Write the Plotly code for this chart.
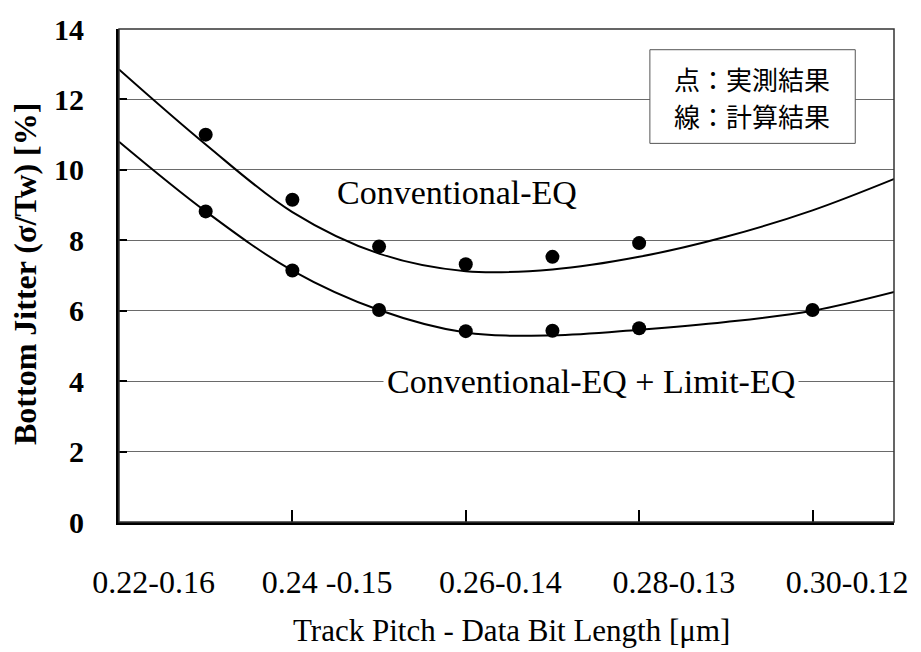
import plotly.graph_objects as go

# Category positions along the track-pitch axis (tick spacing = 1)
tick_labels = ["0.22-0.16", "0.24 -0.15", "0.26-0.14", "0.28-0.13", "0.30-0.12"]
label_pos = [0.2, 1.2, 2.2, 3.2, 4.2]
tick_marks = [1, 2, 3, 4]

# Measured jitter (points)
meas_x_conv = [0.5, 1.0, 1.5, 2.0, 2.5, 3.0]
meas_y_conv = [11.0, 9.15, 7.82, 7.32, 7.53, 7.92]
meas_x_lim = [0.5, 1.0, 1.5, 2.0, 2.5, 3.0, 4.0]
meas_y_lim = [8.82, 7.14, 6.02, 5.42, 5.43, 5.5, 6.02]

# Calculated jitter (curves)
calc_x = [0.0, 0.5, 1.0, 1.5, 2.0, 2.5, 3.0, 3.5, 4.0, 4.5]
calc_y_conv = [12.85, 10.72, 8.8, 7.62, 7.12, 7.17, 7.53, 8.1, 8.85, 9.8]
calc_y_lim = [10.8, 8.82, 7.14, 6.02, 5.38, 5.3, 5.46, 5.68, 6.0, 6.57]

# Key text (one entry per line)
key_lines = ["点：実測結果", "線：計算結果"]

SERIF = "Liberation Serif"

fig = go.Figure()
for cy in (calc_y_conv, calc_y_lim):
    fig.add_trace(go.Scatter(
        x=calc_x, y=cy, mode="lines",
        line=dict(color="black", width=2, shape="spline", smoothing=1.0),
        hoverinfo="skip", showlegend=False,
    ))
for mx, my in ((meas_x_conv, meas_y_conv), (meas_x_lim, meas_y_lim)):
    fig.add_trace(go.Scatter(
        x=mx, y=my, mode="markers",
        marker=dict(color="black", size=14, symbol="circle"),
        showlegend=False,
    ))

annotations = [
    dict(text=line, xref="paper", yref="paper",
         x=0.817, y=yy, xanchor="center", yanchor="middle",
         showarrow=False,
         font=dict(family="Noto Sans CJK JP", size=26, color="black"))
    for line, yy in zip(key_lines, (0.900, 0.824))
]
annotations += [
    dict(text="Conventional-EQ", xref="x", yref="y", x=1.95, y=9.35,
         xanchor="center", yanchor="middle",
         showarrow=False, bgcolor="white",
         font=dict(family=SERIF, size=34, color="black")),
    dict(text="Conventional-EQ + Limit-EQ", xref="x", yref="y", x=2.72, y=4.0,
         xanchor="center", yanchor="middle",
         showarrow=False, bgcolor="white", borderpad=3,
         font=dict(family=SERIF, size=34, color="black")),
    dict(text="Bottom Jitter (σ/Tw) [%]", xref="paper", yref="paper",
         x=-0.122, y=0.504, xanchor="center", yanchor="middle",
         textangle=-90, showarrow=False,
         font=dict(family=SERIF, size=32, color="black", weight="bold")),
    dict(text="Track Pitch - Data Bit Length [μm]", xref="paper", yref="paper",
         x=0.506, y=-0.22, xanchor="center", yanchor="middle",
         showarrow=False,
         font=dict(family=SERIF, size=31, color="black")),
]

fig.update_layout(
    width=921, height=652,
    margin=dict(l=119, r=27, t=22, b=130),
    paper_bgcolor="white", plot_bgcolor="white",
    font=dict(family=SERIF, color="black"),
    xaxis=dict(
        range=[0, 4.47], tickvals=label_pos, ticktext=tick_labels,
        ticks="", showgrid=False, zeroline=False,
        showline=True, linecolor="black", linewidth=3,
        tickfont=dict(family=SERIF, size=32, color="black"),
        ticklabelstandoff=30,
        minor=dict(tickvals=tick_marks, ticks="inside", ticklen=12,
                   tickwidth=2, tickcolor="black", showgrid=False),
    ),
    yaxis=dict(
        range=[0, 14], tickvals=list(range(0, 15, 2)),
        ticks="inside", ticklen=8, tickwidth=2, tickcolor="black",
        showgrid=True, gridcolor="#6a6a6a", gridwidth=1, zeroline=False,
        showline=True, linecolor="black", linewidth=3,
        tickfont=dict(family=SERIF, size=30, color="black", weight="bold"),
        ticklabelstandoff=26,
    ),
    shapes=[
        # plot frame (top and right edges)
        dict(type="rect", xref="paper", yref="paper", x0=0, x1=1, y0=0, y1=1,
             line=dict(color="#333", width=1.5), layer="above"),
        # key box
        dict(type="rect", xref="paper", yref="paper",
             x0=0.685, x1=0.950, y0=0.768, y1=0.958,
             line=dict(color="#555", width=1), fillcolor="white", layer="above"),
    ],
    annotations=annotations,
)

fig.write_html("out.html")
